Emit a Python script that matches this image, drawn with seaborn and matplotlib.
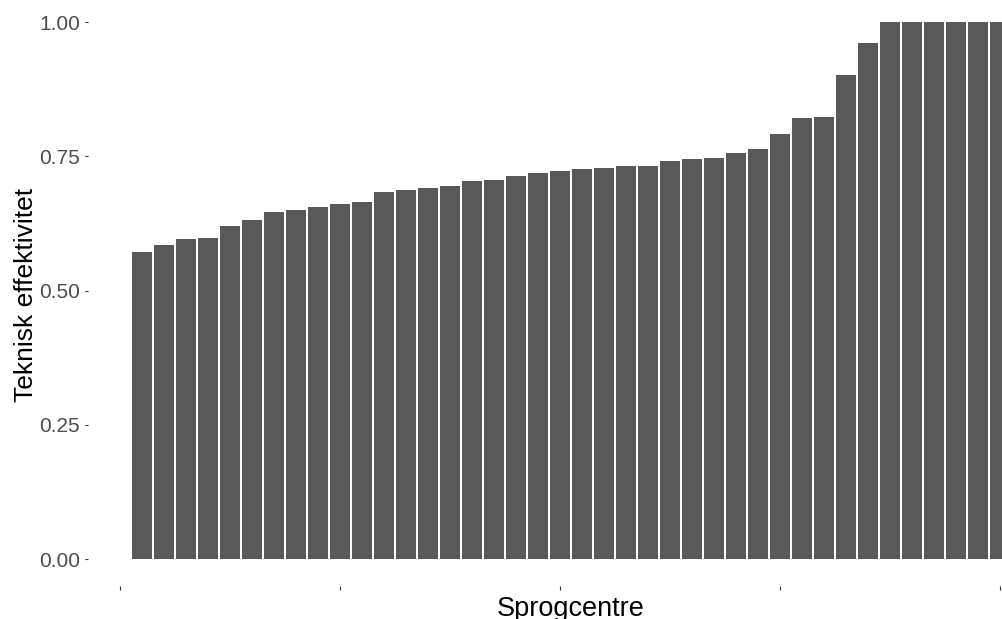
import numpy as np
import pandas as pd
import seaborn as sns
import matplotlib.pyplot as plt

# efficiency scores per language centre, sorted ascending (visible part of chart)
rank = list(range(1, 41))
efficiency = [
    0.572, 0.585, 0.596, 0.598, 0.621, 0.631, 0.646, 0.650, 0.656, 0.662,
    0.665, 0.683, 0.687, 0.691, 0.695, 0.704, 0.706, 0.713, 0.718, 0.722,
    0.727, 0.729, 0.731, 0.731, 0.742, 0.745, 0.747, 0.757, 0.764, 0.791,
    0.821, 0.823, 0.901, 0.960, 1.000, 1.000, 1.000, 1.000, 1.000, 1.000,
]
y_ticks = [0.00, 0.25, 0.50, 0.75, 1.00]
y_ticklabels = ["0.00", "0.25", "0.50", "0.75", "1.00"]
x_ticks = [0, 10, 20, 30, 40]

df = pd.DataFrame({"rank": rank, "eff": efficiency})

sns.set_style("white")
plt.rcParams["font.family"] = ["Liberation Sans", "DejaVu Sans"]

W, H = 1002, 619
fig = plt.figure(figsize=(W / 100, H / 100), dpi=100)
fig.patch.set_facecolor("white")

# panel in pixel units: left 88, right beyond 1002, bottom 586, top just above image
left_px, right_px, bottom_px, top_px = 88, 1002, 586, -4.85
ax = fig.add_axes([left_px / W, (H - bottom_px) / H,
                   (right_px - left_px) / W, (bottom_px - top_px) / H])

sns.barplot(data=df, x="rank", y="eff", native_scale=True, width=0.9,
            color="#595959", saturation=1, ax=ax, linewidth=0)

ax.set_xlim((left_px - 120) / 22, (right_px - 120) / 22)
ax.set_ylim(-0.05, 1.05)

for s in ax.spines.values():
    s.set_visible(False)
ax.grid(False)

ax.set_yticks(y_ticks)
ax.set_yticklabels(y_ticklabels)
ax.set_xticks(x_ticks)
ax.set_xticklabels([""] * len(x_ticks))
ax.tick_params(axis="y", length=2.3, width=0.8, color="#333333",
               labelcolor="#4D4D4D", labelsize=15, pad=3.5, left=True)
ax.tick_params(axis="x", length=2.8, width=0.8, color="#333333",
               bottom=True, pad=0)

ax.set_ylabel("Teknisk effektivitet", fontsize=19, color="black")
ax.set_xlabel("Sprogcentre", fontsize=19.5, color="black", va="top")
ax_w = right_px - left_px
ax_h = bottom_px - top_px
ax.yaxis.set_label_coords((38 - left_px) / ax_w, (bottom_px - 295) / ax_h)
ax.xaxis.set_label_coords((571 - left_px) / ax_w, (bottom_px - 596) / ax_h)

fig.savefig("out.png", dpi=100)
